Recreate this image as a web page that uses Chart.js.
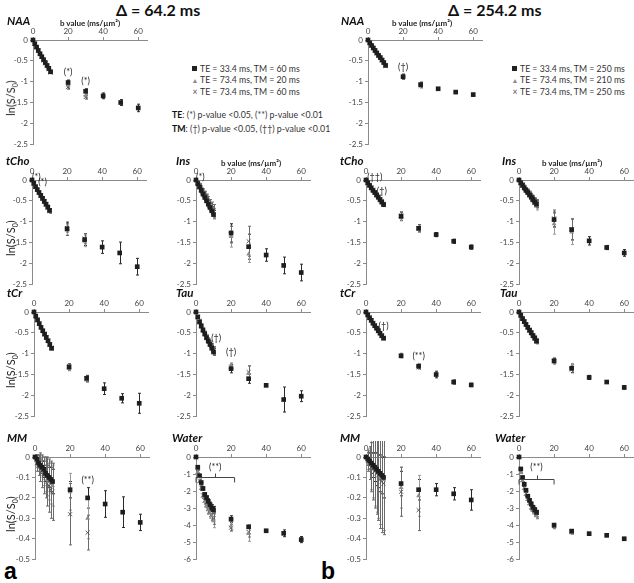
<!DOCTYPE html>
<html>
<head>
<meta charset="utf-8">
<script src="https://cdn.jsdelivr.net/npm/chart.js@4"></script>
<style>
  body { margin: 0; background: #fff; }
  #fig { position: relative; width: 634px; height: 583px; overflow: hidden; font-family: Lato, "Open Sans", sans-serif; color: #222; }
  canvas { position: absolute; }
  .t { position: absolute; white-space: nowrap; line-height: 1; }
  .name { font-style: italic; font-weight: bold; font-size: 11.5px; color: #111; }
  .bval { font-weight: bold; font-size: 8px; color: #222; }
  .head { font-weight: bold; font-size: 16px; color: #111; }
  .ylab { font-size: 11px; width: 60px; text-align: center; transform: rotate(-90deg); color: #222; }
  .ylab sub { font-size: 7px; }
  .leg { font-size: 8.7px; line-height: 11px; color: #333; }
  .mk { display: inline-block; width: 10px; text-align: center; }
  .sqm { display: inline-block; width: 5px; height: 5px; background: #222; margin: 0 3px 1px 2px; }
  .sig { font-size: 8.8px; color: #333; }
  .sig b { color: #111; }
  .plab { font-weight: bold; font-size: 23px; font-family: "Liberation Sans", Arial, sans-serif; color: #000; }
</style>
</head>
<body>
<div id="fig">
  <div class="t head" style="left:116px;top:2px">&Delta; = 64.2 ms</div>
  <div class="t head" style="left:448px;top:2px">&Delta; = 254.2 ms</div>

  <div class="t leg" style="left:190px;top:63px">
    <div><span class="sqm"></span>TE = 33.4 ms, TM = 60 ms</div>
    <div><span class="mk" style="color:#8c8c8c;font-size:7px">&#9650;</span>TE = 73.4 ms, TM = 20 ms</div>
    <div><span class="mk" style="color:#555">&times;</span>TE = 73.4 ms, TM = 60 ms</div>
  </div>
  <div class="t leg" style="left:510px;top:63px">
    <div><span class="sqm"></span>TE = 33.4 ms, TM = 250 ms</div>
    <div><span class="mk" style="color:#8c8c8c;font-size:7px">&#9650;</span>TE = 73.4 ms, TM = 210 ms</div>
    <div><span class="mk" style="color:#555">&times;</span>TE = 73.4 ms, TM = 250 ms</div>
  </div>
  <div class="t sig" style="left:172px;top:111px"><b>TE</b>: (*) p-value &lt;0.05, (**) p-value &lt;0.01</div>
  <div class="t sig" style="left:172px;top:125px"><b>TM</b>: (&dagger;) p-value &lt;0.05, (&dagger;&dagger;) p-value &lt;0.01</div>

  <div class="t plab" style="left:4px;top:560px">a</div>
  <div class="t plab" style="left:321px;top:560px">b</div>
</div>

<script>
// b values (ms/µm²)
var bLow = [0, 1, 2, 3, 4, 5, 6, 7, 8, 9, 10];
var bAll = bLow.concat([20, 30, 40, 50, 60]);   // TE = 33.4 ms
var bLong = bLow.concat([20, 30]);              // TE = 73.4 ms

// ---- a: Δ = 64.2 ms ----
var naaA_sq  = [0, -0.09, -0.17, -0.25, -0.33, -0.40, -0.47, -0.54, -0.61, -0.68, -0.76, -1.02, -1.23, -1.34, -1.50, -1.63];
var naaA_tri = [0, -0.09, -0.18, -0.26, -0.34, -0.41, -0.48, -0.55, -0.62, -0.69, -0.77, -1.09, -1.33];
var naaA_x   = [0, -0.09, -0.17, -0.26, -0.34, -0.41, -0.49, -0.56, -0.63, -0.70, -0.78, -1.13, -1.37];
var naaA_sqErr  = [0, 0.01, 0.01, 0.02, 0.02, 0.02, 0.02, 0.02, 0.02, 0.02, 0.02, 0.06, 0.06, 0.07, 0.07, 0.09];
var naaA_triErr = [0, 0.01, 0.02, 0.02, 0.02, 0.02, 0.02, 0.02, 0.03, 0.03, 0.03, 0.05, 0.05];
var naaA_xErr   = [0, 0.01, 0.02, 0.02, 0.02, 0.02, 0.02, 0.02, 0.03, 0.03, 0.03, 0.05, 0.05];

var tchoA_sq  = [0, -0.08, -0.16, -0.23, -0.30, -0.37, -0.44, -0.51, -0.58, -0.65, -0.73, -1.17, -1.43, -1.61, -1.75, -2.08];
var tchoA_tri = [0, -0.09, -0.17, -0.25, -0.32, -0.39, -0.46, -0.53, -0.60, -0.67, -0.75, -1.20, -1.47];
var tchoA_x   = [0, -0.08, -0.16, -0.24, -0.31, -0.38, -0.45, -0.52, -0.59, -0.66, -0.74, -1.15, -1.41];
var tchoA_sqErr  = [0, 0.02, 0.02, 0.03, 0.03, 0.03, 0.03, 0.03, 0.04, 0.04, 0.04, 0.16, 0.14, 0.15, 0.26, 0.20];
var tchoA_triErr = [0, 0.02, 0.03, 0.03, 0.03, 0.04, 0.04, 0.04, 0.04, 0.05, 0.05, 0.12, 0.13];
var tchoA_xErr   = [0, 0.02, 0.03, 0.03, 0.03, 0.04, 0.04, 0.04, 0.04, 0.05, 0.05, 0.10, 0.12];

var insA_sq  = [0, -0.09, -0.17, -0.25, -0.34, -0.42, -0.50, -0.58, -0.66, -0.74, -0.83, -1.27, -1.60, -1.80, -2.05, -2.22];
var insA_tri = [0, -0.08, -0.16, -0.24, -0.32, -0.40, -0.48, -0.56, -0.64, -0.71, -0.80, -1.36, -1.78];
var insA_x   = [0, -0.07, -0.15, -0.22, -0.30, -0.37, -0.45, -0.52, -0.60, -0.67, -0.74, -1.31, -1.47];
var insA_sqErr  = [0, 0.04, 0.05, 0.06, 0.06, 0.07, 0.07, 0.08, 0.08, 0.09, 0.10, 0.22, 0.30, 0.15, 0.20, 0.20];
var insA_triErr = [0, 0.05, 0.06, 0.07, 0.08, 0.09, 0.10, 0.11, 0.11, 0.12, 0.12, 0.25, 0.20];
var insA_xErr   = [0, 0.05, 0.07, 0.08, 0.09, 0.10, 0.11, 0.12, 0.13, 0.14, 0.15, 0.20, 0.36];

var tcrA_sq  = [0, -0.10, -0.19, -0.28, -0.37, -0.45, -0.53, -0.61, -0.69, -0.78, -0.87, -1.32, -1.59, -1.84, -2.07, -2.19];
var tcrA_tri = [0, -0.10, -0.20, -0.29, -0.37, -0.46, -0.54, -0.62, -0.70, -0.79, -0.88, -1.35, -1.63];
var tcrA_x   = [0, -0.09, -0.19, -0.28, -0.36, -0.45, -0.53, -0.61, -0.69, -0.78, -0.86, -1.30, -1.60];
var tcrA_sqErr  = [0, 0.01, 0.01, 0.02, 0.02, 0.02, 0.02, 0.02, 0.02, 0.03, 0.03, 0.08, 0.07, 0.14, 0.11, 0.24];
var tcrA_triErr = [0, 0.01, 0.02, 0.02, 0.02, 0.02, 0.02, 0.03, 0.03, 0.03, 0.03, 0.06, 0.06];
var tcrA_xErr   = [0, 0.01, 0.02, 0.02, 0.02, 0.02, 0.02, 0.03, 0.03, 0.03, 0.03, 0.06, 0.06];

var tauA_sq  = [0, -0.12, -0.24, -0.34, -0.44, -0.53, -0.62, -0.70, -0.78, -0.87, -0.96, -1.36, -1.60, -1.76, -2.10, -2.02];
var tauA_tri = [0, -0.12, -0.23, -0.33, -0.43, -0.52, -0.61, -0.69, -0.78, -0.86, -0.94, -1.28, -1.47];
var tauA_x   = [0, -0.11, -0.22, -0.32, -0.42, -0.51, -0.60, -0.68, -0.76, -0.84, -0.92, -1.31, -1.44];
var tauA_sqErr  = [0, 0.02, 0.03, 0.03, 0.04, 0.04, 0.05, 0.05, 0.06, 0.07, 0.08, 0.10, 0.11, 0.01, 0.30, 0.13];
var tauA_triErr = [0, 0.02, 0.03, 0.04, 0.04, 0.05, 0.05, 0.06, 0.07, 0.08, 0.09, 0.06, 0.17];
var tauA_xErr   = [0, 0.02, 0.03, 0.04, 0.04, 0.05, 0.05, 0.06, 0.07, 0.08, 0.09, 0.06, 0.15];

var mmA_sq  = [0, -0.01, -0.03, -0.04, -0.05, -0.06, -0.08, -0.09, -0.10, -0.11, -0.12, -0.16, -0.20, -0.23, -0.27, -0.32];
var mmA_tri = [0, -0.02, -0.03, -0.04, -0.06, -0.07, -0.09, -0.11, -0.12, -0.13, -0.14, -0.17, -0.30];
var mmA_x   = [0, -0.03, -0.04, -0.05, -0.07, -0.09, -0.10, -0.12, -0.14, -0.16, -0.17, -0.28, -0.37];
var mmA_sqErr  = [0, 0.02, 0.02, 0.03, 0.03, 0.04, 0.04, 0.05, 0.05, 0.06, 0.06, 0.04, 0.05, 0.065, 0.075, 0.04];
var mmA_triErr = [0, 0.03, 0.04, 0.05, 0.06, 0.07, 0.08, 0.08, 0.09, 0.10, 0.10, 0.09, 0.10];
var mmA_xErr   = [0, 0.04, 0.05, 0.07, 0.08, 0.09, 0.10, 0.12, 0.13, 0.14, 0.14, 0.15, 0.085];

var watA_sq  = [0, -0.6, -1.1, -1.5, -1.85, -2.2, -2.4, -2.6, -2.8, -3.0, -3.1, -3.65, -4.1, -4.33, -4.48, -4.85];
var watA_tri = [0, -0.9, -1.45, -1.85, -2.3, -2.6, -2.9, -3.1, -3.3, -3.45, -3.75, -4.05, -4.5];
var watA_x   = [0, -0.85, -1.4, -1.8, -2.25, -2.55, -2.8, -3.05, -3.25, -3.4, -3.6, -4.15, -4.4];
var watA_sqErr  = [0, 0.05, 0.05, 0.08, 0.1, 0.1, 0.12, 0.15, 0.15, 0.2, 0.2, 0.2, 0.1, 0.05, 0.2, 0.18];
var watA_triErr = [0, 0.1, 0.1, 0.12, 0.15, 0.2, 0.2, 0.25, 0.3, 0.3, 0.4, 0.25, 0.45];
var watA_xErr   = [0, 0.1, 0.1, 0.12, 0.15, 0.2, 0.2, 0.25, 0.25, 0.3, 0.35, 0.2, 0.3];

// ---- b: Δ = 254.2 ms ----
var naaB_sq  = [0, -0.07, -0.13, -0.19, -0.25, -0.31, -0.37, -0.42, -0.48, -0.54, -0.61, -0.88, -1.07, -1.17, -1.25, -1.31];
var naaB_tri = [0, -0.07, -0.13, -0.19, -0.25, -0.31, -0.36, -0.42, -0.48, -0.54, -0.60, -0.86, -1.05];
var naaB_x   = [0, -0.07, -0.14, -0.20, -0.26, -0.32, -0.38, -0.43, -0.49, -0.55, -0.62, -0.89, -1.10];
var naaB_sqErr  = [0, 0.01, 0.01, 0.01, 0.01, 0.01, 0.01, 0.01, 0.01, 0.01, 0.01, 0.06, 0.05, 0.02, 0.02, 0.03];
var naaB_triErr = [0, 0.01, 0.01, 0.01, 0.02, 0.02, 0.02, 0.02, 0.02, 0.02, 0.02, 0.05, 0.05];
var naaB_xErr   = [0, 0.01, 0.01, 0.01, 0.02, 0.02, 0.02, 0.02, 0.02, 0.02, 0.02, 0.05, 0.05];

var tchoB_sq  = [0, -0.07, -0.13, -0.19, -0.25, -0.30, -0.36, -0.41, -0.47, -0.53, -0.59, -0.87, -1.16, -1.31, -1.47, -1.61];
var tchoB_tri = [0, -0.07, -0.14, -0.20, -0.26, -0.32, -0.38, -0.44, -0.50, -0.55, -0.61, -0.90, -1.18];
var tchoB_x   = [0, -0.06, -0.12, -0.18, -0.23, -0.29, -0.35, -0.40, -0.46, -0.51, -0.57, -0.85, -1.15];
var tchoB_sqErr  = [0, 0.01, 0.02, 0.02, 0.02, 0.02, 0.02, 0.02, 0.02, 0.02, 0.02, 0.10, 0.09, 0.05, 0.05, 0.05];
var tchoB_triErr = [0, 0.02, 0.02, 0.02, 0.02, 0.03, 0.03, 0.03, 0.03, 0.03, 0.03, 0.08, 0.08];
var tchoB_xErr   = [0, 0.02, 0.02, 0.02, 0.02, 0.03, 0.03, 0.03, 0.03, 0.03, 0.03, 0.08, 0.08];

var insB_sq  = [0, -0.07, -0.13, -0.19, -0.25, -0.30, -0.36, -0.41, -0.47, -0.53, -0.58, -0.95, -1.19, -1.46, -1.62, -1.75];
var insB_tri = [0, -0.07, -0.14, -0.20, -0.26, -0.32, -0.38, -0.44, -0.50, -0.56, -0.62, -1.05, -1.25];
var insB_x   = [0, -0.06, -0.12, -0.18, -0.24, -0.29, -0.35, -0.40, -0.46, -0.52, -0.57, -0.92, -1.18];
var insB_sqErr  = [0, 0.03, 0.04, 0.05, 0.05, 0.06, 0.06, 0.07, 0.07, 0.08, 0.08, 0.18, 0.25, 0.10, 0.05, 0.08];
var insB_triErr = [0, 0.04, 0.05, 0.06, 0.06, 0.07, 0.08, 0.08, 0.09, 0.09, 0.10, 0.25, 0.30];
var insB_xErr   = [0, 0.04, 0.05, 0.06, 0.06, 0.07, 0.08, 0.08, 0.09, 0.09, 0.10, 0.20, 0.25];

var tcrB_sq  = [0, -0.07, -0.14, -0.20, -0.27, -0.33, -0.39, -0.45, -0.51, -0.57, -0.63, -1.05, -1.30, -1.50, -1.68, -1.75];
var tcrB_tri = [0, -0.07, -0.14, -0.21, -0.27, -0.33, -0.40, -0.46, -0.52, -0.58, -0.64, -1.03, -1.28];
var tcrB_x   = [0, -0.07, -0.13, -0.20, -0.26, -0.32, -0.38, -0.44, -0.50, -0.56, -0.62, -1.06, -1.33];
var tcrB_sqErr  = [0, 0.01, 0.01, 0.01, 0.01, 0.01, 0.02, 0.02, 0.02, 0.02, 0.02, 0.04, 0.04, 0.08, 0.05, 0.04];
var tcrB_triErr = [0, 0.01, 0.01, 0.01, 0.02, 0.02, 0.02, 0.02, 0.02, 0.02, 0.02, 0.04, 0.04];
var tcrB_xErr   = [0, 0.01, 0.01, 0.01, 0.02, 0.02, 0.02, 0.02, 0.02, 0.02, 0.02, 0.04, 0.04];

var tauB_sq  = [0, -0.08, -0.16, -0.23, -0.30, -0.37, -0.44, -0.50, -0.57, -0.63, -0.70, -1.17, -1.35, -1.57, -1.68, -1.81];
var tauB_tri = [0, -0.08, -0.16, -0.24, -0.31, -0.38, -0.45, -0.52, -0.59, -0.65, -0.72, -1.15, -1.32];
var tauB_x   = [0, -0.08, -0.15, -0.22, -0.29, -0.36, -0.43, -0.49, -0.56, -0.62, -0.69, -1.19, -1.38];
var tauB_sqErr  = [0, 0.02, 0.02, 0.02, 0.03, 0.03, 0.03, 0.03, 0.04, 0.04, 0.04, 0.05, 0.10, 0.05, 0.03, 0.04];
var tauB_triErr = [0, 0.02, 0.02, 0.03, 0.03, 0.03, 0.04, 0.04, 0.04, 0.05, 0.05, 0.06, 0.08];
var tauB_xErr   = [0, 0.02, 0.02, 0.03, 0.03, 0.03, 0.04, 0.04, 0.04, 0.05, 0.05, 0.06, 0.08];

var mmB_sq  = [0, -0.01, -0.02, -0.03, -0.04, -0.05, -0.06, -0.07, -0.08, -0.09, -0.10, -0.13, -0.16, -0.16, -0.18, -0.21];
var mmB_tri = [0, -0.01, -0.03, -0.04, -0.05, -0.06, -0.07, -0.08, -0.09, -0.10, -0.11, -0.15, -0.19];
var mmB_x   = [0, -0.02, -0.03, -0.05, -0.06, -0.07, -0.08, -0.09, -0.11, -0.12, -0.13, -0.17, -0.26];
var mmB_sqErr  = [0, 0.03, 0.04, 0.05, 0.06, 0.07, 0.08, 0.08, 0.09, 0.09, 0.10, 0.06, 0.05, 0.03, 0.03, 0.05];
var mmB_triErr = [0, 0.05, 0.08, 0.12, 0.15, 0.18, 0.20, 0.22, 0.24, 0.25, 0.25, 0.10, 0.10];
var mmB_xErr   = [0, 0.05, 0.08, 0.12, 0.15, 0.18, 0.20, 0.22, 0.24, 0.25, 0.25, 0.12, 0.10];

var watB_sq  = [0, -0.7, -1.2, -1.6, -1.95, -2.3, -2.55, -2.75, -2.95, -3.1, -3.25, -4.0, -4.35, -4.5, -4.6, -4.8];
var watB_tri = [0, -0.9, -1.4, -1.85, -2.2, -2.5, -2.75, -3.0, -3.15, -3.3, -3.45, -4.1, -4.45];
var watB_x   = [0, -0.85, -1.35, -1.8, -2.15, -2.45, -2.7, -2.95, -3.1, -3.25, -3.4, -4.05, -4.4];
var watB_sqErr  = [0, 0.05, 0.05, 0.06, 0.08, 0.08, 0.1, 0.1, 0.1, 0.12, 0.12, 0.1, 0.08, 0.05, 0.05, 0.08];
var watB_triErr = [0, 0.08, 0.1, 0.1, 0.12, 0.12, 0.15, 0.15, 0.15, 0.18, 0.18, 0.12, 0.1];
var watB_xErr   = [0, 0.08, 0.1, 0.1, 0.12, 0.12, 0.15, 0.15, 0.15, 0.18, 0.18, 0.12, 0.1];

// significance marks: [b, ln(S/S0), text]
var naaA_notes  = [[20, -0.78, "(*)"], [30, -0.98, "(*)"]];
var tchoA_notes = [[2.5, 0.06, "(*)"], [6, -0.06, "(*)"]];
var insA_notes  = [[2.5, 0.06, "(*)"]];
var tauA_notes  = [[11.5, -0.62, "(\u2020)"], [20, -0.96, "(\u2020)"]];
var mmA_notes   = [[30, -0.115, "(**)"]];
var watA_notes  = [[11, -0.62, "(**)"]];
var naaB_notes  = [[20, -0.64, "(\u2020)"]];
var tchoB_notes = [[5, 0.06, "(\u2020\u2020)"], [9, -0.27, "(\u2020)"]];
var tcrB_notes  = [[10, -0.35, "(\u2020)"], [30, -1.05, "(**)"]];
var watB_notes  = [[10, -0.62, "(**)"]];
// bracket spanning b range: [b from, b to, y]
var watA_bracket = [0, 22, -1.2];
var watB_bracket = [0, 20, -1.3];

var AX_W = 30, AX_H = 16, PLOT_W = 114, PAD_R = 6, PAD_B = 6;

var panels = [
  { id: "naaA", name: "NAA", x: 33, y: 40, h: 105, yMin: -2.5, yStep: 0.5, nx: 7, bval: 89, ylab: true,
    sq: naaA_sq, tri: naaA_tri, cr: naaA_x, sqE: naaA_sqErr, triE: naaA_triErr, crE: naaA_xErr, notes: naaA_notes },
  { id: "tchoA", name: "tCho", x: 32, y: 180, h: 105, yMin: -2.5, yStep: 0.5, nx: 6, ylab: true,
    sq: tchoA_sq, tri: tchoA_tri, cr: tchoA_x, sqE: tchoA_sqErr, triE: tchoA_triErr, crE: tchoA_xErr, notes: tchoA_notes },
  { id: "insA", name: "Ins", x: 196, y: 180, h: 105, yMin: -2.5, yStep: 0.5, nx: 176, bval: 250,
    sq: insA_sq, tri: insA_tri, cr: insA_x, sqE: insA_sqErr, triE: insA_triErr, crE: insA_xErr, notes: insA_notes },
  { id: "tcrA", name: "tCr", x: 34, y: 312, h: 105, yMin: -2.5, yStep: 0.5, nx: 7, ylab: true,
    sq: tcrA_sq, tri: tcrA_tri, cr: tcrA_x, sqE: tcrA_sqErr, triE: tcrA_triErr, crE: tcrA_xErr, notes: [] },
  { id: "tauA", name: "Tau", x: 196, y: 312, h: 105, yMin: -2.5, yStep: 0.5, nx: 176,
    sq: tauA_sq, tri: tauA_tri, cr: tauA_x, sqE: tauA_sqErr, triE: tauA_triErr, crE: tauA_xErr, notes: tauA_notes },
  { id: "mmA", name: "MM", x: 35, y: 457, h: 103, yMin: -0.5, yStep: 0.1, nx: 7, ylab: true,
    sq: mmA_sq, tri: mmA_tri, cr: mmA_x, sqE: mmA_sqErr, triE: mmA_triErr, crE: mmA_xErr, notes: mmA_notes },
  { id: "watA", name: "Water", x: 196, y: 457, h: 103, yMin: -6, yStep: 1, nx: 172,
    sq: watA_sq, tri: watA_tri, cr: watA_x, sqE: watA_sqErr, triE: watA_triErr, crE: watA_xErr, notes: watA_notes, bracket: watA_bracket },

  { id: "naaB", name: "NAA", x: 368, y: 40, h: 105, yMin: -2.5, yStep: 0.5, nx: 341, bval: 421,
    sq: naaB_sq, tri: naaB_tri, cr: naaB_x, sqE: naaB_sqErr, triE: naaB_triErr, crE: naaB_xErr, notes: naaB_notes },
  { id: "tchoB", name: "tCho", x: 366, y: 180, h: 105, yMin: -2.5, yStep: 0.5, nx: 340,
    sq: tchoB_sq, tri: tchoB_tri, cr: tchoB_x, sqE: tchoB_sqErr, triE: tchoB_triErr, crE: tchoB_xErr, notes: tchoB_notes },
  { id: "insB", name: "Ins", x: 519, y: 180, h: 105, yMin: -2.5, yStep: 0.5, nx: 502, bval: 571,
    sq: insB_sq, tri: insB_tri, cr: insB_x, sqE: insB_sqErr, triE: insB_triErr, crE: insB_xErr, notes: [] },
  { id: "tcrB", name: "tCr", x: 366, y: 312, h: 105, yMin: -2.5, yStep: 0.5, nx: 340,
    sq: tcrB_sq, tri: tcrB_tri, cr: tcrB_x, sqE: tcrB_sqErr, triE: tcrB_triErr, crE: tcrB_xErr, notes: tcrB_notes },
  { id: "tauB", name: "Tau", x: 519, y: 312, h: 105, yMin: -2.5, yStep: 0.5, nx: 500,
    sq: tauB_sq, tri: tauB_tri, cr: tauB_x, sqE: tauB_sqErr, triE: tauB_triErr, crE: tauB_xErr, notes: [] },
  { id: "mmB", name: "MM", x: 366, y: 457, h: 103, yMin: -0.5, yStep: 0.1, nx: 340,
    sq: mmB_sq, tri: mmB_tri, cr: mmB_x, sqE: mmB_sqErr, triE: mmB_triErr, crE: mmB_xErr, notes: [] },
  { id: "watB", name: "Water", x: 519, y: 457, h: 103, yMin: -6, yStep: 1, nx: 495,
    sq: watB_sq, tri: watB_tri, cr: watB_x, sqE: watB_sqErr, triE: watB_triErr, crE: watB_xErr, notes: watB_notes, bracket: watB_bracket }
];

function pts(xs, ys) {
  return ys.map(function (v, i) { return { x: xs[i], y: v }; });
}

// vertical error bars, drawn under the markers
var errorBars = {
  id: "errorBars",
  beforeDatasetsDraw: function (chart) {
    var ctx = chart.ctx, ys = chart.scales.y, xs = chart.scales.x;
    ctx.save();
    chart.data.datasets.forEach(function (ds) {
      if (!ds.errs) return;
      ctx.strokeStyle = ds.errColor;
      ctx.lineWidth = 1;
      ds.data.forEach(function (p, i) {
        var e = ds.errs[i];
        if (!e) return;
        var px = Math.round(xs.getPixelForValue(p.x)) + 0.5;
        var y1 = ys.getPixelForValue(p.y + e), y2 = ys.getPixelForValue(p.y - e);
        ctx.beginPath();
        ctx.moveTo(px, y1); ctx.lineTo(px, y2);
        ctx.moveTo(px - 1.5, y1); ctx.lineTo(px + 1.5, y1);
        ctx.moveTo(px - 1.5, y2); ctx.lineTo(px + 1.5, y2);
        ctx.stroke();
      });
    });
    ctx.restore();
  }
};

function notesPlugin(p) {
  return {
    id: "notes",
    afterDatasetsDraw: function (chart) {
      var ctx = chart.ctx, xs = chart.scales.x, ys = chart.scales.y;
      ctx.save();
      ctx.fillStyle = "#222";
      ctx.strokeStyle = "#444";
      ctx.lineWidth = 1;
      ctx.font = "9px Lato, 'Open Sans', sans-serif";
      ctx.textAlign = "center";
      ctx.textBaseline = "middle";
      p.notes.forEach(function (n) {
        ctx.fillText(n[2], xs.getPixelForValue(n[0]), ys.getPixelForValue(n[1]));
      });
      if (p.bracket) {
        var x1 = xs.getPixelForValue(p.bracket[0]), x2 = xs.getPixelForValue(p.bracket[1]);
        var yb = Math.round(ys.getPixelForValue(p.bracket[2])) + 0.5;
        var xm = Math.round((x1 + x2) / 2) + 0.5;
        ctx.beginPath();
        ctx.moveTo(x1, yb + 5); ctx.lineTo(x1, yb); ctx.lineTo(x2, yb); ctx.lineTo(x2, yb + 5);
        ctx.moveTo(xm, yb); ctx.lineTo(xm, yb - 4);
        ctx.stroke();
      }
      ctx.restore();
    }
  };
}

function fmt(v) {
  var r = Math.round(v * 10) / 10;
  return r === 0 ? "0" : String(r);
}

function addText(cls, left, top, html) {
  var d = document.createElement("div");
  d.className = "t " + cls;
  d.style.left = left + "px";
  d.style.top = top + "px";
  d.innerHTML = html;
  document.getElementById("fig").appendChild(d);
  return d;
}

function makePanel(p) {
  var fig = document.getElementById("fig");
  var cv = document.createElement("canvas");
  var W = AX_W + PLOT_W + PAD_R, H = AX_H + p.h + PAD_B;
  cv.width = W; cv.height = H;
  cv.style.width = W + "px"; cv.style.height = H + "px";
  cv.style.left = (p.x - AX_W) + "px";
  cv.style.top = (p.y - AX_H) + "px";
  fig.appendChild(cv);

  addText("name", p.nx, p.y - 25, p.name);
  if (p.bval) addText("bval", p.bval - 29, p.y - 21, "b value (ms/\u00b5m\u00b2)");
  if (p.ylab) addText("ylab", 12 - 30, p.y + p.h / 2 - 2, "ln(S/S<sub>0</sub>)");

  var axisColor = "#8a8a8a";
  new Chart(cv, {
    type: "scatter",
    data: {
      datasets: [
        { data: pts(bAll, p.sq), errs: p.sqE, errColor: "#2a2a2a", pointStyle: "rect", radius: 3.3,
          backgroundColor: "#1e1e1e", borderColor: "#1e1e1e", borderWidth: 0, clip: false },
        { data: pts(bLong, p.tri), errs: p.triE, errColor: "#9a9a9a", pointStyle: "triangle", radius: 2.8,
          backgroundColor: "#8c8c8c", borderColor: "#8c8c8c", borderWidth: 0, clip: false },
        { data: pts(bLong, p.cr), errs: p.crE, errColor: "#6a6a6a", pointStyle: "crossRot", radius: 2.8,
          backgroundColor: "#555", borderColor: "#555", borderWidth: 1, clip: false }
      ]
    },
    options: {
      responsive: false,
      animation: false,
      devicePixelRatio: 1,
      events: [],
      layout: { padding: { left: 0, top: 0, right: PAD_R, bottom: PAD_B } },
      plugins: { legend: { display: false }, tooltip: { enabled: false } },
      scales: {
        x: {
          type: "linear", position: "top", min: 0, max: 65,
          afterBuildTicks: function (s) { s.ticks = [0, 20, 40, 60].map(function (v) { return { value: v }; }); },
          afterFit: function (s) { s.height = AX_H; },
          grid: { drawOnChartArea: false, drawTicks: true, tickLength: 3, color: axisColor },
          border: { display: true, color: axisColor, width: 1 },
          ticks: { font: { size: 8, family: "Lato, 'Open Sans', sans-serif" }, color: "#444", padding: 1, maxRotation: 0 }
        },
        y: {
          type: "linear", min: p.yMin, max: 0,
          afterFit: function (s) { s.width = AX_W; },
          grid: { drawOnChartArea: false, drawTicks: true, tickLength: 3, color: axisColor },
          border: { display: true, color: axisColor, width: 1 },
          ticks: { stepSize: p.yStep, font: { size: 8, family: "Lato, 'Open Sans', sans-serif" }, color: "#444", padding: 2,
            callback: function (v) { return fmt(v); } }
        }
      }
    },
    plugins: [errorBars, notesPlugin(p)]
  });
}

panels.forEach(makePanel);
</script>
</body>
</html>
